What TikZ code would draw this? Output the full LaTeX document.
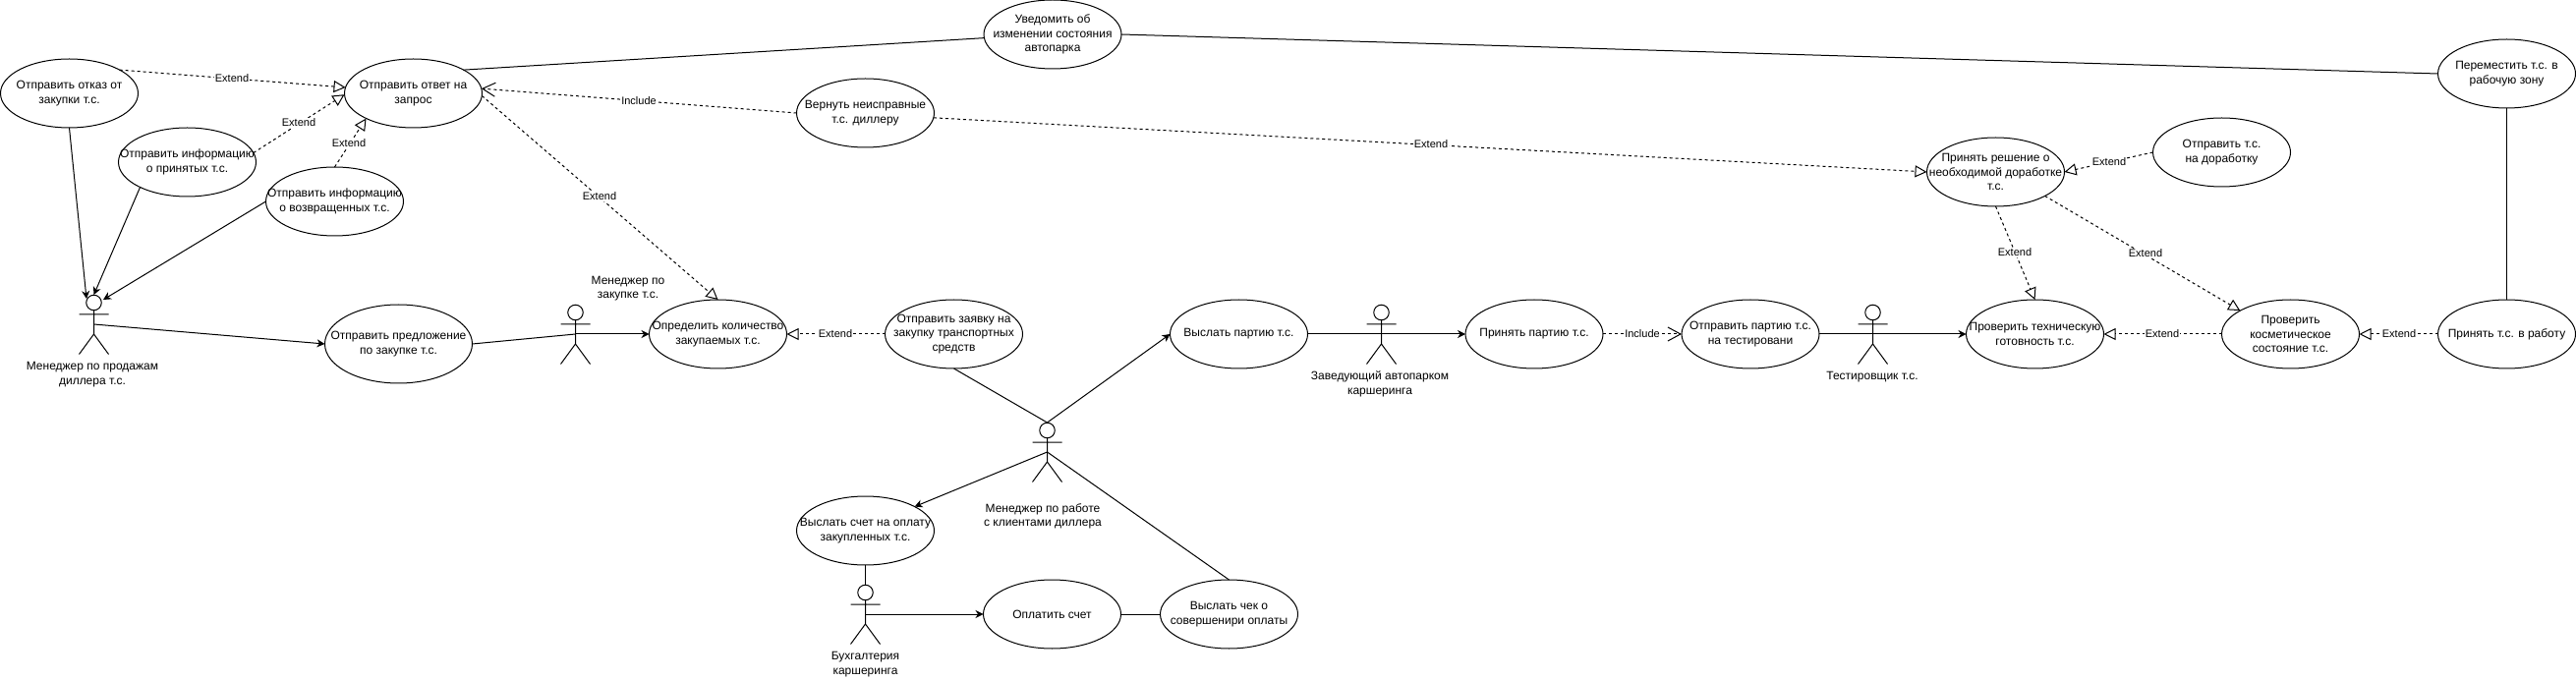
\documentclass[tikz,border=0pt]{standalone}
\usepackage{fontspec}
\setmainfont{Liberation Sans}
\usetikzlibrary{shapes.geometric,arrows.meta}
\tikzset{
  uc/.style={ellipse,draw=black,line width=1pt,minimum width=140pt,minimum height=70pt,inner xsep=-30pt,inner ysep=-10pt,outer sep=0pt,align=center,font=\fontsize{12}{14.6}\selectfont},
  ucbig/.style={uc,minimum width=150pt,minimum height=80pt},
  alabel/.style={align=center,inner sep=0pt,font=\fontsize{12}{14.6}\selectfont},
  elabel/.style={fill=white,inner xsep=1pt,inner ysep=1pt,font=\fontsize{11}{13}\selectfont},
  assoc/.style={line width=1pt,-{Stealth[length=8pt,width=8pt,inset=2.5pt]}},
  plain/.style={line width=1pt},
  ext/.style={line width=1pt,dash pattern=on 3pt off 3pt,-{Triangle[open,length=12pt,width=12pt]}},
  incl/.style={line width=1pt,dash pattern=on 3pt off 3pt,-{Straight Barb[length=13pt,width=14pt]}},
  actor/.pic={
    \node[circle,draw=black,line width=1pt,minimum size=15.5pt,inner sep=0pt,outer sep=0pt] (-head) at (0,8) {};
    \coordinate (-top) at (0,0);
    \coordinate (-mid) at (0,30);
    \draw[line width=1pt] (0,16) -- (0,40) (-15,20) -- (15,20) (-15,60.5) -- (0,40) -- (15,60.5);
  }
}
\begin{document}
\begin{tikzpicture}[x=1pt,y=-1pt]
\useasboundingbox (0,0) rectangle (2621,692);
% use cases
\node[uc] (otkaz) at (70.5,95) {Отправить отказ от\\закупки т.с.};
\node[uc] (otvet) at (420.5,95) {Отправить ответ на\\запрос};
\node[uc] (prinyatye) at (190.5,165) {Отправить информацию\\о принятых т.с.};
\node[uc] (vozvr) at (340.5,205) {Отправить информацию\\о возвращенных т.с.};
\node[ucbig] (predl) at (405.5,350) {Отправить предложение\\по закупке т.с.};
\node[uc] (opred) at (730.5,340) {Определить количество\\закупаемых т.с.};
\node[uc] (uved) at (1071,35) {Уведомить об\\изменении состояния\\автопарка};
\node[uc] (vernut) at (880.5,115) {Вернуть неисправные\\т.с. диллеру};
\node[uc] (zayavka) at (970.5,340) {Отправить заявку на\\закупку транспортных\\средств};
\node[uc] (partiya) at (1260.5,340) {Выслать партию т.с.};
\node[uc] (prpart) at (1561,340) {Принять партию т.с.};
\node[uc] (test) at (1781,340) {Отправить партию т.с.\\на тестировани};
\node[uc] (tech) at (2070.5,340) {Проверить техническую\\готовность т.с.};
\node[uc] (kosm) at (2330.5,340) {Проверить\\косметическое\\состояние т.с.};
\node[uc] (vrabotu) at (2550.5,340) {Принять т.с. в работу};
\node[uc] (perem) at (2550.5,75) {Переместить т.с. в\\рабочую зону};
\node[uc] (resh) at (2030.5,175) {Принять решение о\\необходимой доработке\\т.с.};
\node[uc] (dorab) at (2260.5,155) {Отправить т.с.\\на доработку};
\node[uc] (schet) at (880.5,540) {Выслать счет на оплату\\закупленных т.с.};
\node[uc] (oplata) at (1070.5,625) {Оплатить счет};
\node[uc] (chek) at (1250.5,625) {Выслать чек о\\совершенири оплаты};
% actors
\pic (adil) at (95.5,300) {actor};
\pic (azak) at (585.5,310) {actor};
\pic (aman) at (1065.5,430) {actor};
\pic (azav) at (1405.5,310) {actor};
\pic (ates) at (1905.5,310) {actor};
\pic (abuh) at (880.5,595) {actor};
\node[alabel] (ldil) at (94,381) {Менеджер по продажам\\диллера т.с.};
\node[alabel] (lzak) at (639,293.5) {Менеджер по\\закупке т.с.};
\node[alabel] (lman) at (1061,525.5) {Менеджер по работе\\с клиентами диллера};
\node[alabel] (lzav) at (1404,391) {Заведующий автопарком\\каршеринга};
\node[alabel] (ltes) at (1905,384) {Тестировщик т.с.};
\node[alabel] (lbuh) at (880.5,676) {Бухгалтерия\\каршеринга};
% free connector ends on the dealer actor
\coordinate (adilA) at (88,304);
\coordinate (adilC) at (105,305);
% associations
\draw[assoc] (otkaz.south) -- (adilA);
\draw[assoc] (prinyatye.208) -- (adil-top);
\draw[assoc] (vozvr.west) -- (adilC);
\draw[assoc] (adil-mid) -- (predl.west);
\draw[plain] (predl.east) -- (azak-mid);
\draw[assoc] (azak-mid) -- (opred.west);
\draw[plain] (otvet.25) -- (uved.183);
\draw[plain] (uved.east) -- (perem.west);
\draw[plain] (perem.south) -- (vrabotu.north);
\draw[plain] (zayavka.south) -- (aman-top);
\draw[assoc] (aman-top) -- (partiya.west);
\draw[assoc] (aman-mid) -- (schet.26);
\draw[plain] (aman-mid) -- (chek.north);
\draw[plain] (schet.south) -- (abuh-top);
\draw[assoc] (abuh-mid) -- (oplata.west);
\draw[plain] (oplata.east) -- (chek.west);
\draw[plain] (partiya.east) -- (azav-mid);
\draw[assoc] (azav-mid) -- (prpart.west);
\draw[plain] (test.east) -- (ates-mid);
\draw[assoc] (ates-mid) -- (tech.west);
% extend / include
\draw[ext] (otkaz.25) -- (otvet.175);
\draw[ext] (prinyatye.8) -- (otvet.181);
\draw[ext] (vozvr.north) -- (otvet.208.6);
\draw[ext] (otvet.-2) -- (opred.north);
\draw[incl] (vernut.west) -- (otvet.4);
\draw[ext] (zayavka.west) -- (opred.east);
\draw[ext] (vernut.-4) -- (resh.west);
\draw[ext] (dorab.west) -- (resh.east);
\draw[ext] (resh.south) -- (tech.north);
\draw[ext] (resh.-26) -- (kosm.155);
\draw[ext] (kosm.west) -- (tech.east);
\draw[ext] (vrabotu.west) -- (kosm.east);
\draw[incl] (prpart.east) -- (test.west);
% edge labels
\node[elabel] (e1) at (236,80) {Extend};
\node[elabel] (e2) at (304,125) {Extend};
\node[elabel] (e3) at (355,146) {Extend};
\node[elabel] (e4) at (610,200) {Extend};
\node[elabel] (i1) at (650,103) {Include};
\node[elabel] (e5) at (850,340) {Extend};
\node[elabel] (e6) at (1456,147) {Extend};
\node[elabel] (i2) at (1671,340) {Include};
\node[elabel] (e7) at (2146,165) {Extend};
\node[elabel] (e8) at (2050,257) {Extend};
\node[elabel] (e9) at (2183,258) {Extend};
\node[elabel] (e10) at (2200,340) {Extend};
\node[elabel] (e11) at (2441,340) {Extend};
\end{tikzpicture}
\end{document}
